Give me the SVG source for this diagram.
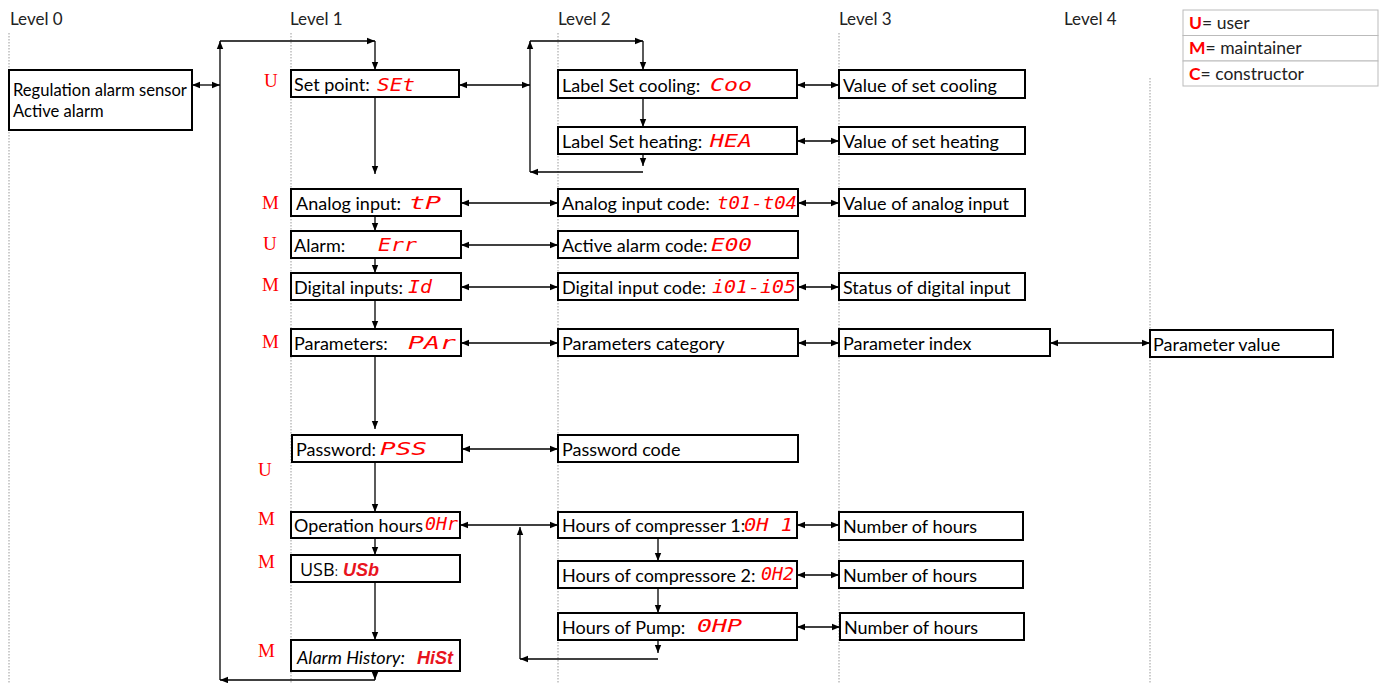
<svg xmlns="http://www.w3.org/2000/svg" width="1383" height="683" viewBox="0 0 1383 683">
<style>
.lvl{stroke:#9a9a9a;stroke-width:1;stroke-dasharray:1.5,1.5;fill:none}
.box{fill:#fff;stroke:#000;stroke-width:2}
.t{font-family:Lato,"Liberation Sans",sans-serif;font-size:18px;fill:#000}
.hd{font-family:Lato,"Liberation Sans",sans-serif;font-size:17px;fill:#222}
.r0{font-family:Lato,"Liberation Sans",sans-serif;font-size:16.6px;fill:#000}
.lgt{font-family:Lato,"Liberation Sans",sans-serif;font-size:17.5px;fill:#222}
.seg{font-family:"DejaVu Sans Mono",monospace;font-style:italic;font-size:18px;fill:#ff0000}
.segb{font-family:"Liberation Sans",sans-serif;font-style:italic;font-weight:bold;font-size:18px;fill:#e8141e}
.role{font-family:"Liberation Serif",serif;font-size:19px;fill:#ff0000}
.ca{stroke:#000;stroke-width:1.3;fill:none;marker-end:url(#ah)}
.cb{stroke:#000;stroke-width:1.3;fill:none;marker-end:url(#ah);marker-start:url(#as)}
.lg{fill:#fff;stroke:#bbb;stroke-width:1}
.lgr{font-weight:bold;fill:#ff0000}
</style>
<defs>
<marker id="ah" markerUnits="userSpaceOnUse" markerWidth="9" markerHeight="8" refX="8" refY="4" orient="auto"><path d="M0,0.8 L8,4 L0,7.2 Z" fill="#000"/></marker>
<marker id="as" markerUnits="userSpaceOnUse" markerWidth="9" markerHeight="8" refX="0" refY="4" orient="auto"><path d="M8,0.8 L0,4 L8,7.2 Z" fill="#000"/></marker>
</defs>
<rect width="1383" height="683" fill="#fff"/>
<g id="levels">
<line class="lvl" x1="9" y1="33" x2="9" y2="683"/>
<line class="lvl" x1="291" y1="33" x2="291" y2="683"/>
<line class="lvl" x1="558" y1="33" x2="558" y2="683"/>
<line class="lvl" x1="839" y1="33" x2="839" y2="683"/>
<line class="lvl" x1="1150" y1="78" x2="1150" y2="683"/>
<text class="hd" x="10" y="25">Level 0</text>
<text class="hd" x="290" y="25">Level 1</text>
<text class="hd" x="558" y="25">Level 2</text>
<text class="hd" x="839" y="25">Level 3</text>
<text class="hd" x="1064" y="25">Level 4</text>
</g>
<g id="legend">
<rect class="lg" x="1183" y="10" width="195" height="25.5"/>
<rect class="lg" x="1183" y="35.5" width="195" height="25.5"/>
<rect class="lg" x="1183" y="61" width="195" height="25"/>
<text class="lgt" x="1189" y="29"><tspan class="lgr">U</tspan>= user</text>
<text class="lgt" x="1189" y="54"><tspan class="lgr">M</tspan>= maintainer</text>
<text class="lgt" x="1189" y="80"><tspan class="lgr">C</tspan>= constructor</text>
</g>
<g id="roles">
<text class="role" x="264" y="87">U</text>
<text class="role" x="262" y="209">M</text>
<text class="role" x="263" y="250">U</text>
<text class="role" x="262" y="291">M</text>
<text class="role" x="262" y="348">M</text>
<text class="role" x="258" y="476">U</text>
<text class="role" x="258" y="525">M</text>
<text class="role" x="258" y="568">M</text>
<text class="role" x="258" y="657">M</text>
</g>
<g id="connectors">
<polyline class="ca" points="220,680 220,41"/>
<polyline class="ca" points="220,41 375,41"/>
<polyline class="ca" points="375,41 375,70"/>
<line class="cb" x1="192" y1="85" x2="220" y2="85"/>
<polyline class="ca" points="375,671 375,680"/>
<polyline class="ca" points="375,680 220,680"/>
<polyline class="ca" points="375,97 375,174"/>
<line class="cb" x1="459" y1="85" x2="530" y2="85"/>
<polyline class="ca" points="530,172 530,41"/>
<polyline class="ca" points="530,41 643,41"/>
<polyline class="ca" points="643,41 643,70"/>
<polyline class="ca" points="643,98 643,127"/>
<polyline class="ca" points="643,154 643,166"/>
<polyline class="ca" points="643,172 530,172"/>
<line class="cb" x1="797" y1="85" x2="839" y2="85"/>
<line class="cb" x1="797" y1="141" x2="839" y2="141"/>
<line class="cb" x1="461" y1="203" x2="558" y2="203"/>
<line class="cb" x1="798" y1="203" x2="839" y2="203"/>
<polyline class="ca" points="375,216 375,231"/>
<line class="cb" x1="461" y1="245" x2="558" y2="245"/>
<polyline class="ca" points="375,258 375,273"/>
<line class="cb" x1="461" y1="287" x2="558" y2="287"/>
<line class="cb" x1="798" y1="287" x2="839" y2="287"/>
<polyline class="ca" points="375,300 375,329"/>
<line class="cb" x1="461" y1="343" x2="558" y2="343"/>
<line class="cb" x1="798" y1="343" x2="839" y2="343"/>
<line class="cb" x1="1050" y1="343" x2="1150" y2="343"/>
<polyline class="ca" points="375,356 375,429"/>
<line class="cb" x1="462" y1="449" x2="558" y2="449"/>
<polyline class="ca" points="375,462 375,512"/>
<line class="cb" x1="460" y1="525" x2="558" y2="525"/>
<polyline class="ca" points="520,659 520,527"/>
<polyline class="ca" points="658,640 658,653"/>
<polyline class="ca" points="658,659 520,659"/>
<polyline class="ca" points="658,538 658,561"/>
<polyline class="ca" points="658,588 658,613"/>
<line class="cb" x1="797" y1="525" x2="839" y2="525"/>
<line class="cb" x1="797" y1="575" x2="839" y2="575"/>
<line class="cb" x1="797" y1="627" x2="840" y2="627"/>
<polyline class="ca" points="375,538 375,555"/>
<polyline class="ca" points="375,582 375,640"/>
</g>
<g id="n-level0"><rect class="box" x="9" y="70" width="183" height="60"/><text class="r0" x="13" y="96">Regulation alarm sensor</text><text class="r0" x="13" y="117">Active alarm</text></g>
<g id="n-setpoint"><rect class="box" x="291" y="70" width="168" height="27"/><text class="t" x="294" y="91">Set point: </text><text class="seg" x="377" y="91" textLength="38" lengthAdjust="spacingAndGlyphs">SEt</text></g>
<g id="n-cool"><rect class="box" x="558" y="70" width="239" height="28"/><text class="t" x="562" y="92">Label Set cooling: </text><text class="seg" x="710" y="91" textLength="42" lengthAdjust="spacingAndGlyphs">Coo</text></g>
<g id="n-coolv"><rect class="box" x="839" y="70" width="186" height="28"/><text class="t" x="843" y="92">Value of set cooling</text></g>
<g id="n-heat"><rect class="box" x="558" y="127" width="239" height="27"/><text class="t" x="562" y="148">Label Set heating: </text><text class="seg" x="710" y="147" textLength="42" lengthAdjust="spacingAndGlyphs">HEA</text></g>
<g id="n-heatv"><rect class="box" x="839" y="127" width="186" height="27"/><text class="t" x="843" y="148">Value of set heating</text></g>
<g id="n-analog"><rect class="box" x="291" y="189" width="170" height="27"/><text class="t" x="296" y="210">Analog input: </text><text class="seg" x="409" y="209" textLength="32" lengthAdjust="spacingAndGlyphs">tP</text></g>
<g id="n-analogc"><rect class="box" x="558" y="189" width="240" height="27"/><text class="t" x="562" y="210">Analog input code: </text><text class="seg" x="717" y="209" textLength="80" lengthAdjust="spacingAndGlyphs">t01-t04</text></g>
<g id="n-analogv"><rect class="box" x="839" y="189" width="186" height="27"/><text class="t" x="843" y="210">Value of analog input</text></g>
<g id="n-alarm"><rect class="box" x="291" y="231" width="170" height="27"/><text class="t" x="294" y="252">Alarm: </text><text class="seg" x="378" y="251" textLength="39" lengthAdjust="spacingAndGlyphs">Err</text></g>
<g id="n-alarmc"><rect class="box" x="558" y="231" width="240" height="27"/><text class="t" x="562" y="252">Active alarm code: </text><text class="seg" x="711" y="251" textLength="41" lengthAdjust="spacingAndGlyphs">E00</text></g>
<g id="n-digital"><rect class="box" x="291" y="273" width="170" height="27"/><text class="t" x="294" y="294">Digital inputs: </text><text class="seg" x="408" y="293" textLength="24" lengthAdjust="spacingAndGlyphs">Id</text></g>
<g id="n-digitalc"><rect class="box" x="558" y="273" width="240" height="27"/><text class="t" x="562" y="294">Digital input code: </text><text class="seg" x="712" y="293" textLength="84" lengthAdjust="spacingAndGlyphs">i01-i05</text></g>
<g id="n-digitalv"><rect class="box" x="839" y="273" width="186" height="27"/><text class="t" x="843" y="294">Status of digital input</text></g>
<g id="n-param"><rect class="box" x="291" y="329" width="170" height="27"/><text class="t" x="294" y="350">Parameters: </text><text class="seg" x="408" y="349" textLength="48" lengthAdjust="spacingAndGlyphs">PAr</text></g>
<g id="n-paramc"><rect class="box" x="558" y="329" width="240" height="27"/><text class="t" x="562" y="350">Parameters category</text></g>
<g id="n-parami"><rect class="box" x="839" y="329" width="211" height="27"/><text class="t" x="843" y="350">Parameter index</text></g>
<g id="n-paramv"><rect class="box" x="1150" y="330" width="183" height="27"/><text class="t" x="1153" y="351">Parameter value</text></g>
<g id="n-pass"><rect class="box" x="292" y="435" width="170" height="27"/><text class="t" x="296" y="456">Password: </text><text class="seg" x="380" y="455" textLength="47" lengthAdjust="spacingAndGlyphs">PSS</text></g>
<g id="n-passc"><rect class="box" x="558" y="435" width="240" height="27"/><text class="t" x="562" y="456">Password code</text></g>
<g id="n-ophours"><rect class="box" x="291" y="512" width="169" height="26"/><text class="t" x="294" y="532" textLength="129" lengthAdjust="spacingAndGlyphs">Operation hours</text><text class="seg" x="425" y="530" font-size="15" textLength="33" lengthAdjust="spacingAndGlyphs">0Hr</text></g>
<g id="n-hc1"><rect class="box" x="558" y="512" width="239" height="26"/><text class="t" x="562" y="532">Hours of compresser 1:</text><text class="seg" x="744" y="531" textLength="49" lengthAdjust="spacingAndGlyphs">0H 1</text></g>
<g id="n-hc1v"><rect class="box" x="839" y="512" width="184" height="28"/><text class="t" x="843" y="533">Number of hours</text></g>
<g id="n-usb"><rect class="box" x="291" y="555" width="169" height="27"/><text x="300" y="576" style="font-family:'Open Sans','Liberation Sans',sans-serif;font-size:18px;fill:#000">USB<tspan font-size="12">:</tspan></text><text class="segb" x="343" y="576">USb</text></g>
<g id="n-hc2"><rect class="box" x="558" y="561" width="239" height="27"/><text class="t" x="562" y="582">Hours of compressore 2:</text><text class="seg" x="761" y="580" font-size="16" textLength="33" lengthAdjust="spacingAndGlyphs">0H2</text></g>
<g id="n-hc2v"><rect class="box" x="839" y="561" width="184" height="27"/><text class="t" x="843" y="582">Number of hours</text></g>
<g id="n-pump"><rect class="box" x="558" y="613" width="239" height="27"/><text class="t" x="562" y="634">Hours of Pump: </text><text class="seg" x="697" y="632" textLength="45" lengthAdjust="spacingAndGlyphs">0HP</text></g>
<g id="n-pumpv"><rect class="box" x="840" y="613" width="184" height="27"/><text class="t" x="844" y="634">Number of hours</text></g>
<g id="n-hist"><rect class="box" x="291" y="640" width="169" height="31"/><text class="t" x="297" y="664" font-style="italic">Alarm History: </text><text class="segb" x="417" y="664">HiSt</text></g>
</svg>
